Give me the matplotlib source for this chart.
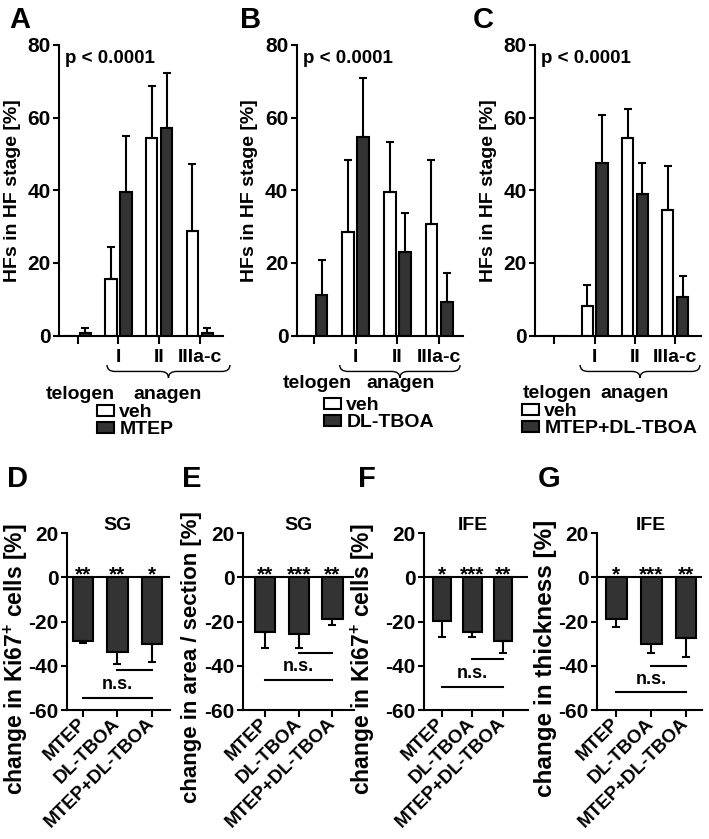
import numpy as np
import matplotlib
matplotlib.use('Agg')
import matplotlib.pyplot as plt
import matplotlib.transforms as mtransforms
from matplotlib.path import Path
from matplotlib.patches import PathPatch

plt.rcParams['font.family'] = ['Liberation Sans', 'DejaVu Sans']
plt.rcParams['font.weight'] = 'bold'
plt.rcParams['axes.labelweight'] = 'bold'
plt.rcParams['axes.unicode_minus'] = False
plt.rcParams['mathtext.fontset'] = 'custom'
plt.rcParams['mathtext.bf'] = 'Liberation Sans:bold'
plt.rcParams['mathtext.rm'] = 'Liberation Sans:bold'
plt.rcParams['mathtext.default'] = 'bf'

# ---- data: hair follicle stages (A-C) ----
stages = ['', 'I', 'II', 'IIIa-c']

veh_A = [0, 15.5, 54.3, 28.7]
veh_A_err = [0, 8.9, 14.4, 18.5]
mtep_A = [0.7, 39.5, 57.1, 0.7]
mtep_A_err = [1.5, 15.5, 15.3, 1.5]

veh_B = [0, 28.4, 39.5, 30.6]
veh_B_err = [0, 20.0, 13.9, 17.8]
dltboa_B = [11.1, 54.6, 22.9, 9.3]
dltboa_B_err = [9.8, 16.4, 10.9, 7.9]

veh_C = [0, 8.1, 54.5, 34.5]
veh_C_err = [0, 5.8, 7.9, 12.2]
combo_C = [0, 47.5, 39.1, 10.7]
combo_C_err = [0, 13.3, 8.4, 5.7]

# ---- data: change vs vehicle (D-G) ----
treatments = ['MTEP', 'DL-TBOA', 'MTEP+DL-TBOA']

ki67_sg = [-28.8, -33.9, -30.2]
ki67_sg_err = [1.0, 5.3, 8.0]
area_sg = [-24.8, -25.8, -18.9]
area_sg_err = [7.3, 6.3, 2.6]
ki67_ife = [-19.7, -24.8, -28.6]
ki67_ife_err = [7.4, 2.3, 5.5]
thick_ife = [-18.8, -30.3, -27.6]
thick_ife_err = [3.5, 3.8, 8.3]

stars_D = ['**', '**', '*']
stars_E = ['**', '***', '**']
stars_F = ['*', '***', '**']
stars_G = ['*', '***', '**']

dark = '#333333'
W, H = 709, 839


def px_rect(x0, x1, y0, y1):
    return [x0 / W, 1 - y1 / H, (x1 - x0) / W, (y1 - y0) / H]


def fpx(x, y):
    return x / W, 1 - y / H


def style_axes(ax):
    ax.spines['top'].set_visible(False)
    ax.spines['right'].set_visible(False)
    ax.spines['left'].set_linewidth(1.5)
    ax.spines['bottom'].set_linewidth(1.5)
    ax.tick_params(width=1.5, length=4, labelsize=15, pad=2)


def brace(ax, x0, x1, y0, y1, q=0.2):
    xm = (x0 + x1) / 2
    ym = (y0 + y1) / 2
    verts = [(x0, y0), (x0, ym), (x0 + q, ym), (xm - q, ym), (xm, ym), (xm, y1),
             (xm, ym), (xm + q, ym), (x1 - q, ym), (x1, ym), (x1, y0)]
    codes = [Path.MOVETO, Path.CURVE3, Path.CURVE3, Path.LINETO, Path.CURVE3, Path.CURVE3,
             Path.CURVE3, Path.CURVE3, Path.LINETO, Path.CURVE3, Path.CURVE3]
    trans = mtransforms.blended_transform_factory(ax.transData, ax.transAxes)
    ax.add_patch(PathPatch(Path(verts, codes), fill=False, lw=1.0, transform=trans, clip_on=False))


def stage_panel(ax, veh, veh_err, drug, drug_err, drug_name, xlim, brace_x, lab_y, leg_xy):
    x = np.arange(len(stages))
    off, w = 0.185, 0.28
    ax.bar(x - off, veh, w, color='white', edgecolor='black', lw=1.5, label='veh')
    ax.bar(x + off, drug, w, color=dark, edgecolor='black', lw=1.5, label=drug_name)
    for xs, v, e in ((x - off, veh, veh_err), (x + off, drug, drug_err)):
        v = np.asarray(v, float)
        e = np.asarray(e, float)
        m = e > 0
        ax.errorbar(xs[m], v[m], yerr=[np.zeros(m.sum()), e[m]], fmt='none', ecolor='black',
                    elinewidth=1.5, capsize=3, capthick=1.5)
    style_axes(ax)
    ax.set_xlim(*xlim)
    ax.set_ylim(0, 80)
    ax.set_yticks([0, 20, 40, 60, 80])
    ax.set_xticks(x)
    ax.set_xticklabels(stages, fontsize=14)
    ax.tick_params(axis='x', length=6, pad=4)
    ax.set_ylabel('HFs in HF stage [%]', fontsize=14)
    ax.yaxis.set_label_coords(-0.23, 0.5)
    ax.text(0.037, 0.938, 'p < 0.0001', transform=ax.transAxes, fontsize=13.5, va='baseline')
    brace(ax, brace_x[0], brace_x[1], -0.1015, -0.146)
    fig.text(*fpx(lab_y[0], lab_y[2]), 'telogen', ha='center', va='baseline', fontsize=14)
    fig.text(*fpx(lab_y[1], lab_y[2]), 'anagen', ha='center', va='baseline', fontsize=14)
    ax.legend(loc='upper left', bbox_to_anchor=fpx(*leg_xy), bbox_transform=fig.transFigure,
              frameon=False, fontsize=14, handlelength=0.85, handleheight=0.5,
              handletextpad=0.3, labelspacing=0.0, borderpad=0, borderaxespad=0)


def change_panel(ax, vals, errs, stars, title, ylabel, ns_y, xlim, lab_xy, lab_size):
    x = np.arange(len(treatments))
    ax.bar(x, vals, 0.6, color=dark, edgecolor='black', lw=1.5)
    ax.errorbar(x, vals, yerr=[errs, np.zeros(len(x))], fmt='none', ecolor='black',
                elinewidth=1.5, capsize=3, capthick=1.5)
    ax.axhline(0, color='black', lw=1.5)
    for xi, s in zip(x, stars):
        ax.text(xi, -1.5, s, ha='center', va='baseline', fontsize=15)
    ax.text(1, 21.5, title, ha='center', va='baseline', fontsize=14)
    ax.plot([1, 2], [ns_y[0]] * 2, color='black', lw=1.5)
    ax.plot([0, 2], [ns_y[1]] * 2, color='black', lw=1.5)
    ax.text(1, np.mean(ns_y), 'n.s.', ha='center', va='center', fontsize=13)
    style_axes(ax)
    ax.set_xlim(*xlim)
    ax.set_ylim(-60, 20)
    ax.set_yticks([-60, -40, -20, 0, 20])
    ax.set_xticks(x)
    ax.set_xticklabels(treatments, rotation=45, ha='right', va='center',
                       rotation_mode='anchor', fontsize=13.5)
    ax.tick_params(axis='x', length=5, pad=3)
    ax.set_ylabel(ylabel, fontsize=lab_size)
    ax.yaxis.set_label_coords(*lab_xy)


fig = plt.figure(figsize=(W / 100, H / 100), dpi=100)

axA = fig.add_axes(px_rect(59, 223, 45, 335.5))
axB = fig.add_axes(px_rect(296.7, 463, 45, 335.5))
axC = fig.add_axes(px_rect(535, 700.7, 45, 335.5))
stage_panel(axA, veh_A, veh_A_err, mtep_A, mtep_A_err, 'MTEP', (-0.46, 3.57),
            (0.72, 3.74), (80, 168, 399), (97, 404))
stage_panel(axB, veh_B, veh_B_err, dltboa_B, dltboa_B_err, 'DL-TBOA', (-0.41, 3.57),
            (0.62, 3.5), (317, 401, 388), (324, 397))
stage_panel(axC, veh_C, veh_C_err, combo_C, combo_C_err, 'MTEP+DL-TBOA', (-0.48, 3.63),
            (0.64, 3.61), (557, 635, 398), (522, 403))

axD = fig.add_axes(px_rect(66.7, 170, 533.3, 710))
axE = fig.add_axes(px_rect(243, 354, 533.3, 710))
axF = fig.add_axes(px_rect(424, 528, 533.3, 710))
axG = fig.add_axes(px_rect(597, 701.7, 533.3, 710))
change_panel(axD, ki67_sg, ki67_sg_err, stars_D, 'SG', r'change in Ki67$^{+}$ cells [%]',
             (-42, -54.5), (-0.47, 2.52), (-0.36, 0.29), 16.5)
change_panel(axE, area_sg, area_sg_err, stars_E, 'SG', 'change in area / section [%]',
             (-34.4, -46.5), (-0.65, 2.64), (-0.37, 0.30), 16)
change_panel(axF, ki67_ife, ki67_ife_err, stars_F, 'IFE', r'change in Ki67$^{+}$ cells [%]',
             (-37, -49.5), (-0.58, 2.81), (-0.45, 0.29), 16.5)
change_panel(axG, thick_ife, thick_ife_err, stars_G, 'IFE', 'change in thickness [%]',
             (-40, -52), (-0.55, 2.45), (-0.38, 0.29), 17.5)

for letter, x, y in [('A', 9, 28), ('B', 240, 28), ('C', 473, 28),
                     ('D', 7, 487), ('E', 182, 487), ('F', 358, 487), ('G', 538, 487)]:
    fig.text(*fpx(x, y), letter, fontsize=21, va='baseline')

fig.savefig('out.png', dpi=100)
